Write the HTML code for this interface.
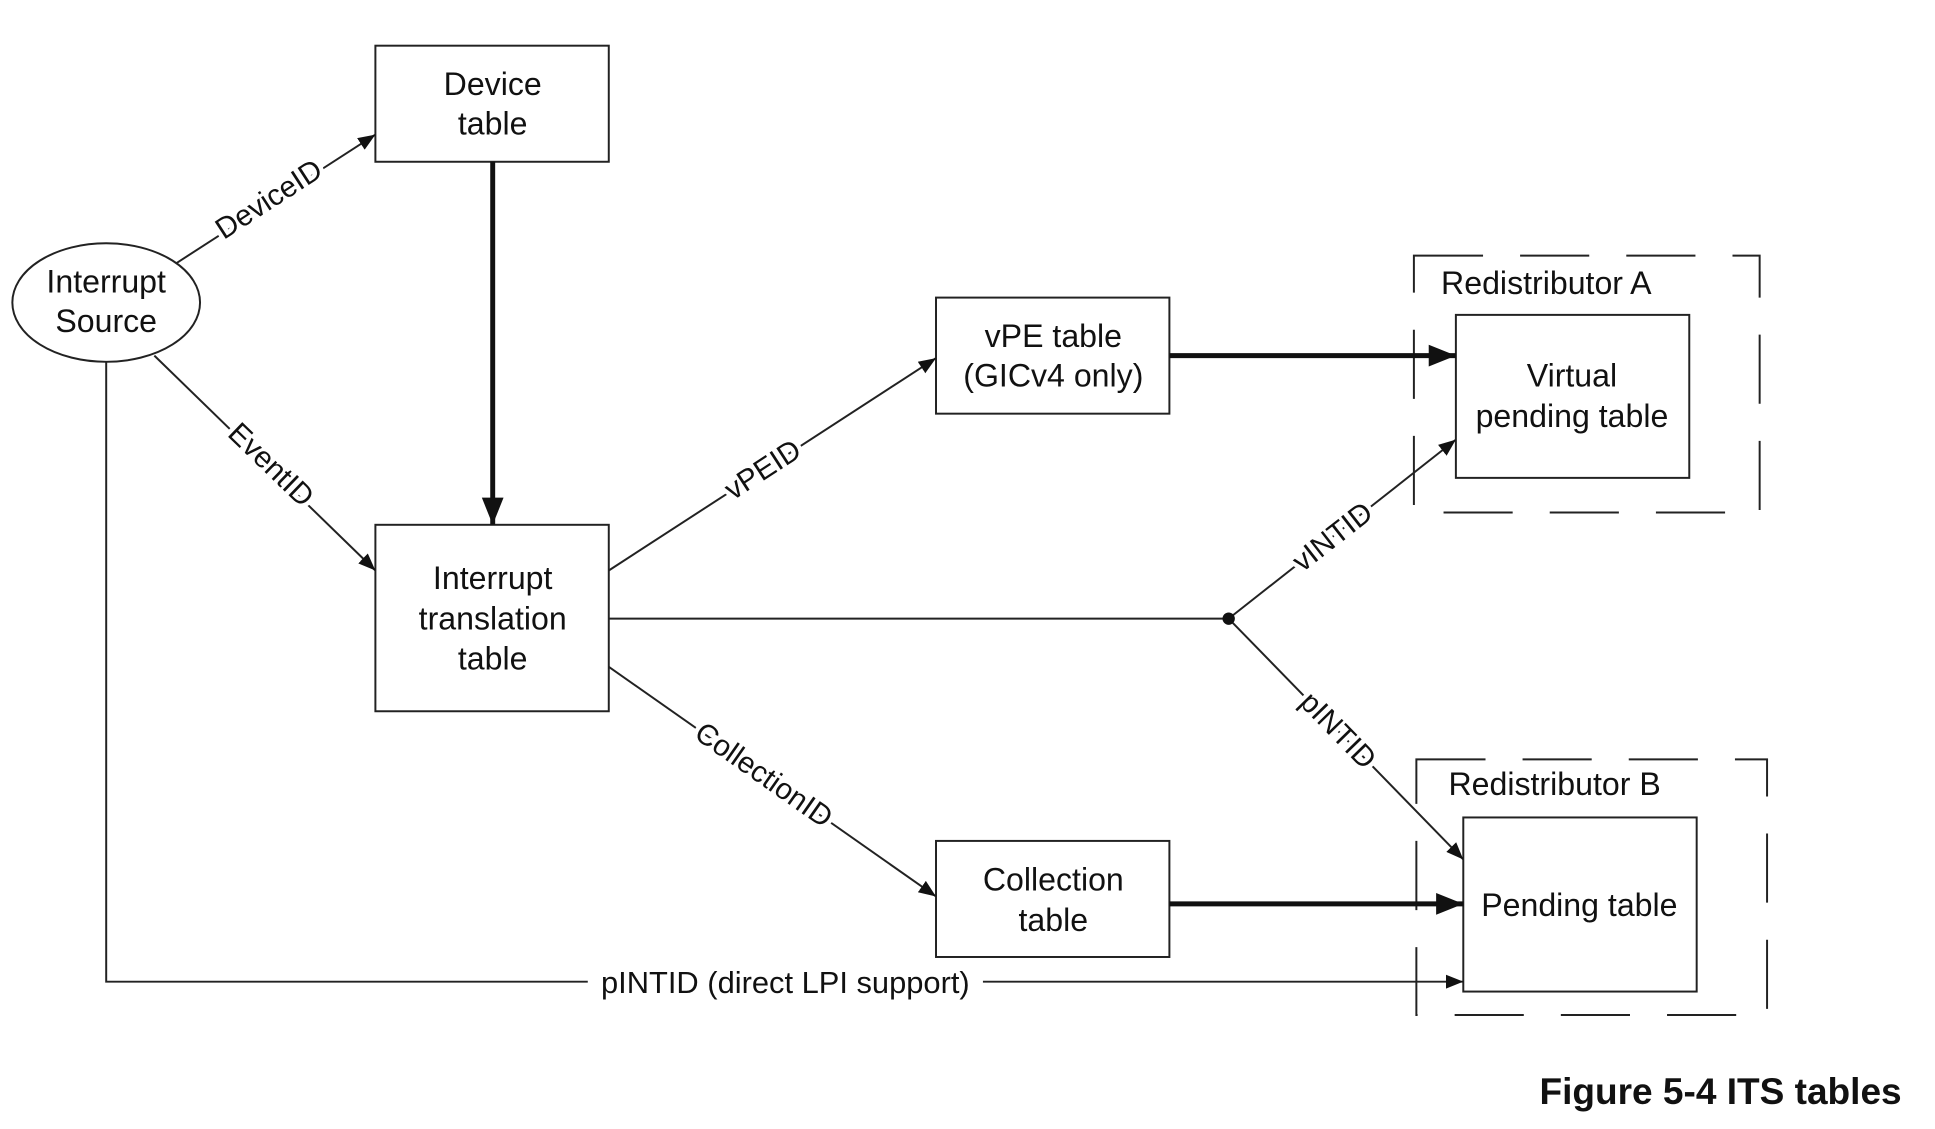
<!DOCTYPE html>
<html><head><meta charset="utf-8"><style>
html,body{margin:0;padding:0;background:#fff;}
svg{display:block;}
text{font-family:"Liberation Sans",Arial,sans-serif;fill:#111;}
.b{font-size:26px;text-anchor:middle;}
.l{font-size:24px;text-anchor:middle;paint-order:stroke;stroke:#fff;stroke-width:7px;stroke-linejoin:round;}
</style></head><body>
<svg width="1935" height="1129" viewBox="0 0 1567 914.3" preserveAspectRatio="none" xmlns="http://www.w3.org/2000/svg">
<defs>
<marker id="a" viewBox="0 0 10 10" refX="10" refY="5" markerWidth="14" markerHeight="14" markerUnits="userSpaceOnUse" orient="auto"><path d="M0,1 L10,5 L0,9 z" fill="#111"/></marker>
<marker id="A" viewBox="0 0 10 10" refX="10" refY="5" markerWidth="22" markerHeight="22" markerUnits="userSpaceOnUse" orient="auto"><path d="M0,1 L10,5 L0,9 z" fill="#111"/></marker>
</defs>
<g stroke="#222" fill="none" stroke-width="1.6">
<rect x="1145" y="207" width="280" height="208" stroke-dasharray="56 30"/>
<rect x="1147" y="615" width="284" height="207" stroke-dasharray="56 30"/>
<ellipse cx="86" cy="245" rx="76" ry="48" fill="#fff"/>
<rect x="304" y="37" width="189" height="94" fill="#fff"/>
<rect x="304" y="425" width="189" height="151" fill="#fff"/>
<rect x="758" y="241" width="189" height="94" fill="#fff"/>
<rect x="758" y="681" width="189" height="94" fill="#fff"/>
<rect x="1179" y="255" width="189" height="132" fill="#fff"/>
<rect x="1185" y="662" width="189" height="141" fill="#fff"/>
<line x1="143" y1="213" x2="304" y2="109" marker-end="url(#a)"/>
<line x1="125" y1="288" x2="304" y2="462" marker-end="url(#a)"/>
<polyline points="86,293 86,795 1185,795" marker-end="url(#a)"/>
<line x1="493" y1="462" x2="758" y2="290" marker-end="url(#a)"/>
<line x1="493" y1="501" x2="995" y2="501"/>
<line x1="995" y1="501" x2="1179" y2="356" marker-end="url(#a)"/>
<line x1="995" y1="501" x2="1185" y2="696" marker-end="url(#a)"/>
<line x1="493" y1="540" x2="758" y2="726" marker-end="url(#a)"/>
<line x1="399" y1="131" x2="399" y2="425" stroke-width="4" stroke="#111" marker-end="url(#A)"/>
<line x1="947" y1="288" x2="1179" y2="288" stroke-width="4" stroke="#111" marker-end="url(#A)"/>
<line x1="947" y1="732" x2="1185" y2="732" stroke-width="4" stroke="#111" marker-end="url(#A)"/>
</g>
<circle cx="995" cy="501" r="5" fill="#111"/>
<rect x="476" y="782" width="320" height="26" fill="#fff"/>
<text class="b" x="86" y="237">Interrupt</text>
<text class="b" x="86" y="269">Source</text>
<text class="b" x="399" y="77">Device</text>
<text class="b" x="399" y="109">table</text>
<text class="b" x="399" y="477">Interrupt</text>
<text class="b" x="399" y="510">translation</text>
<text class="b" x="399" y="542">table</text>
<text class="b" x="853" y="281">vPE table</text>
<text class="b" x="853" y="313">(GICv4 only)</text>
<text class="b" x="853" y="721">Collection</text>
<text class="b" x="853" y="754">table</text>
<text class="b" x="1273" y="313">Virtual</text>
<text class="b" x="1273" y="346">pending table</text>
<text class="b" x="1279" y="742">Pending table</text>
<text style="font-size:26px" x="1167" y="238">Redistributor A</text>
<text style="font-size:26px" x="1173" y="644">Redistributor B</text>
<text class="l" transform="translate(222,168) rotate(-33)">DeviceID</text>
<text class="l" transform="translate(214,382) rotate(44)">EventID</text>
<text class="l" transform="translate(622,387) rotate(-33)">vPEID</text>
<text class="l" transform="translate(614,634) rotate(35)">CollectionID</text>
<text class="l" transform="translate(1084,441) rotate(-38)">vINTID</text>
<text class="l" transform="translate(1078,597) rotate(45.7)">pINTID</text>
<text style="font-size:25px;text-anchor:middle" x="636" y="804">pINTID (direct LPI support)</text>
<text x="1540" y="894" style="font-size:30px;font-weight:bold;text-anchor:end">Figure 5-4 ITS tables</text>
</svg>
</body></html>
